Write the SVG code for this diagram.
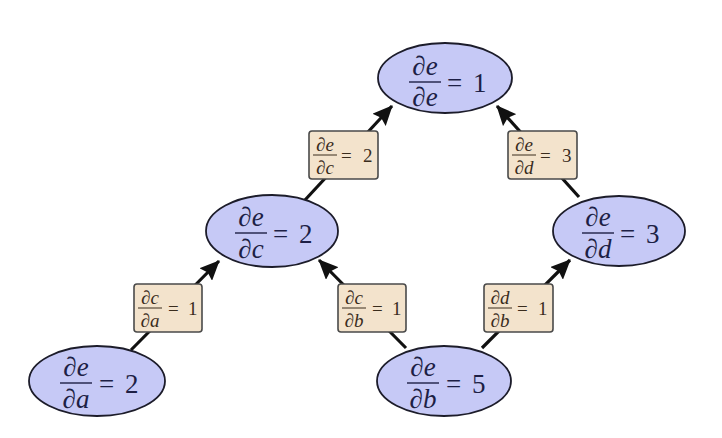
<svg xmlns="http://www.w3.org/2000/svg" width="722" height="438" viewBox="0 0 722 438">
<defs>
<style>
.node ellipse{fill:#c6c9f6;stroke:#1c1c2a;stroke-width:1.8}
.math{font-family:"Liberation Serif","DejaVu Serif",serif;font-style:italic;fill:#1d1f45}
.big{font-size:27px}
.small{font-size:19px;fill:#3a2c1c}
.up{font-style:normal}
.bar{stroke:#1d1f45;stroke-width:1.4}
.sbar{stroke:#3a2c1c;stroke-width:1}
.lbl rect{fill:#f3e3cc;stroke:#4a4a4a;stroke-width:1.6}
.edge{stroke:#111;stroke-width:3.2;fill:none;marker-end:url(#ah)}
</style>
<marker id="ah" markerUnits="userSpaceOnUse" markerWidth="20" markerHeight="18" refX="19" refY="9" orient="auto">
<path d="M0,0 L20,9 L0,18 L3,9 z" fill="#111"/>
</marker>
</defs>
<rect width="722" height="438" fill="#fff"/>
<g id="connectors">
<line class="edge" x1="131" y1="350" x2="219" y2="261"/>
<line class="edge" x1="305" y1="200" x2="392" y2="106"/>
<line class="edge" x1="579" y1="197" x2="497" y2="106"/>
<line class="edge" x1="406" y1="348" x2="319" y2="260"/>
<line class="edge" x1="482" y1="348" x2="570" y2="260"/>
</g>
<g id="label-ce" class="lbl">
<rect x="309" y="131" width="69" height="48" rx="3"/>
<text class="math small" x="325" y="151" text-anchor="middle">∂e</text>
<line class="sbar" x1="313" y1="155" x2="337" y2="155"/>
<text class="math small" x="325" y="174" text-anchor="middle">∂c</text>
<text class="math small up" x="341" y="162">=</text>
<text class="math small up" x="363" y="162">2</text>
</g>
<g id="label-de" class="lbl">
<rect x="508" y="131" width="69" height="48" rx="3"/>
<text class="math small" x="524" y="151" text-anchor="middle">∂e</text>
<line class="sbar" x1="512" y1="155" x2="536" y2="155"/>
<text class="math small" x="524" y="174" text-anchor="middle">∂d</text>
<text class="math small up" x="540" y="162">=</text>
<text class="math small up" x="562" y="162">3</text>
</g>
<g id="label-ca" class="lbl">
<rect x="134" y="284" width="68" height="48" rx="3"/>
<text class="math small" x="150" y="304" text-anchor="middle">∂c</text>
<line class="sbar" x1="138" y1="308" x2="162" y2="308"/>
<text class="math small" x="150" y="327" text-anchor="middle">∂a</text>
<text class="math small up" x="168" y="315">=</text>
<text class="math small up" x="188" y="315">1</text>
</g>
<g id="label-cb" class="lbl">
<rect x="338" y="284" width="68" height="48" rx="3"/>
<text class="math small" x="354" y="304" text-anchor="middle">∂c</text>
<line class="sbar" x1="342" y1="308" x2="366" y2="308"/>
<text class="math small" x="354" y="327" text-anchor="middle">∂b</text>
<text class="math small up" x="372" y="315">=</text>
<text class="math small up" x="392" y="315">1</text>
</g>
<g id="label-db" class="lbl">
<rect x="484" y="284" width="69" height="48" rx="3"/>
<text class="math small" x="500" y="304" text-anchor="middle">∂d</text>
<line class="sbar" x1="488" y1="308" x2="512" y2="308"/>
<text class="math small" x="500" y="327" text-anchor="middle">∂b</text>
<text class="math small up" x="517" y="315">=</text>
<text class="math small up" x="538" y="315">1</text>
</g>
<g id="node-e" class="node">
<ellipse cx="445" cy="78" rx="67" ry="35"/>
<text class="math big" x="425" y="75" text-anchor="middle">∂e</text>
<line class="bar" x1="409" y1="82" x2="441" y2="82"/>
<text class="math big" x="425" y="106" text-anchor="middle">∂e</text>
<text class="math big up" x="447" y="92">=</text>
<text class="math big up" x="473" y="92">1</text>
</g>
<g id="node-c" class="node">
<ellipse cx="272" cy="231" rx="66" ry="36"/>
<text class="math big" x="251" y="226" text-anchor="middle">∂e</text>
<line class="bar" x1="235" y1="233" x2="267" y2="233"/>
<text class="math big" x="251" y="258" text-anchor="middle">∂c</text>
<text class="math big up" x="273" y="243">=</text>
<text class="math big up" x="299" y="243">2</text>
</g>
<g id="node-d" class="node">
<ellipse cx="619" cy="231" rx="66" ry="35"/>
<text class="math big" x="598" y="226" text-anchor="middle">∂e</text>
<line class="bar" x1="582" y1="233" x2="614" y2="233"/>
<text class="math big" x="598" y="258" text-anchor="middle">∂d</text>
<text class="math big up" x="620" y="243">=</text>
<text class="math big up" x="646" y="243">3</text>
</g>
<g id="node-a" class="node">
<ellipse cx="97" cy="381" rx="68" ry="35"/>
<text class="math big" x="76" y="376" text-anchor="middle">∂e</text>
<line class="bar" x1="60" y1="383" x2="92" y2="383"/>
<text class="math big" x="76" y="408" text-anchor="middle">∂a</text>
<text class="math big up" x="99" y="393">=</text>
<text class="math big up" x="125" y="393">2</text>
</g>
<g id="node-b" class="node">
<ellipse cx="444" cy="381" rx="67" ry="35"/>
<text class="math big" x="423" y="376" text-anchor="middle">∂e</text>
<line class="bar" x1="407" y1="383" x2="439" y2="383"/>
<text class="math big" x="423" y="408" text-anchor="middle">∂b</text>
<text class="math big up" x="446" y="393">=</text>
<text class="math big up" x="472" y="393">5</text>
</g>
</svg>
